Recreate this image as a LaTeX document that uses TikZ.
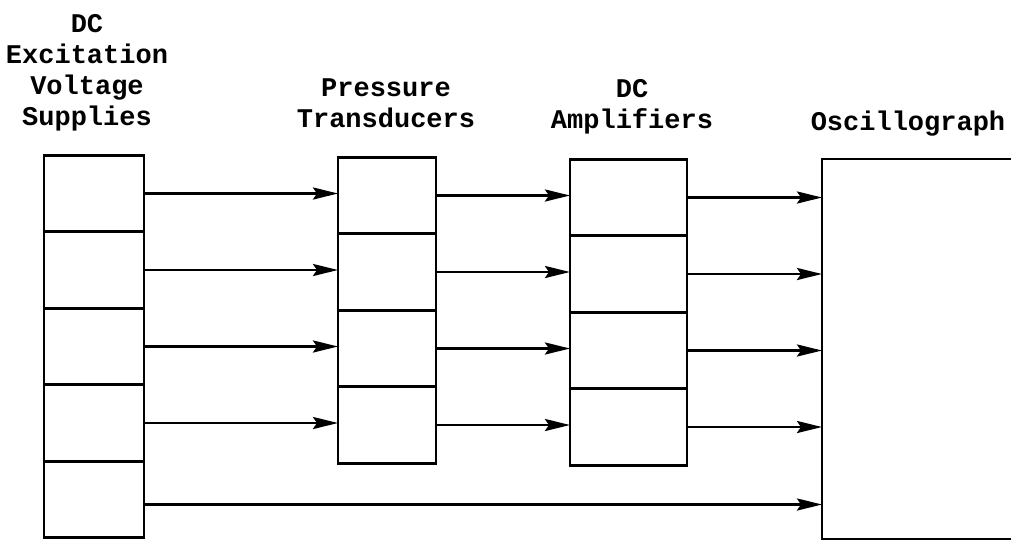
\documentclass[tikz,border=0pt]{standalone}
\usepackage{fontspec}
\setmonofont{Liberation Mono}
\usetikzlibrary{arrows.meta,positioning}

\begin{document}
\begin{tikzpicture}[x=1pt,y=-1pt,
  cell/.style={draw,line width=2.8pt,minimum width=#1,minimum height=76.5pt,inner sep=0pt,outer sep=0pt},
  lbl/.style={font=\fontsize{27}{31}\selectfont\ttfamily\bfseries,align=center,anchor=base,inner sep=0pt},
  >={Stealth[length=25pt,width=12pt,inset=4pt]},
  sig/.style={->,line width=2.8pt}]
\clip (0,0) rectangle (1011,542);
% excitation supplies
\node[cell=100pt] (s1) at (94,193.5) {};
\node[cell=100pt,below=0pt of s1] (s2) {};
\node[cell=100pt,below=0pt of s2] (s3) {};
\node[cell=100pt,below=0pt of s3] (s4) {};
\node[cell=100pt,below=0pt of s4] (s5) {};
% transducers
\node[cell=98pt] (p1) at (387,195.5) {};
\node[cell=98pt,below=0pt of p1] (p2) {};
\node[cell=98pt,below=0pt of p2] (p3) {};
\node[cell=98pt,below=0pt of p3] (p4) {};
% amplifiers
\node[cell=117pt] (a1) at (628.5,197.5) {};
\node[cell=117pt,below=0pt of a1] (a2) {};
\node[cell=117pt,below=0pt of a2] (a3) {};
\node[cell=117pt,below=0pt of a3] (a4) {};
% oscillograph, open to the right
\node[cell=260pt,minimum height=380pt,anchor=north west] (osc) at (822,159) {};
% labels
\node[lbl] (ls) at (87,125) {DC\\Excitation\\Voltage\\Supplies};
\node[lbl] (lp) at (386,127) {Pressure\\Transducers};
\node[lbl] (la) at (632,128) {DC\\Amplifiers};
\node[lbl] (lo) at (908,130) {Oscillograph};
% signal lines
\foreach \i in {1,...,4}{
  \draw[sig] (s\i.east) -- (s\i.east -| p\i.west);
  \draw[sig] (p\i.east) -- (p\i.east -| a\i.west);
  \draw[sig] (a\i.east) -- (a\i.east -| osc.west);
}
\draw[sig] ([yshift=-5pt]s5.east) -- ([yshift=-5pt]s5.east -| osc.west);
\end{tikzpicture}
\end{document}
